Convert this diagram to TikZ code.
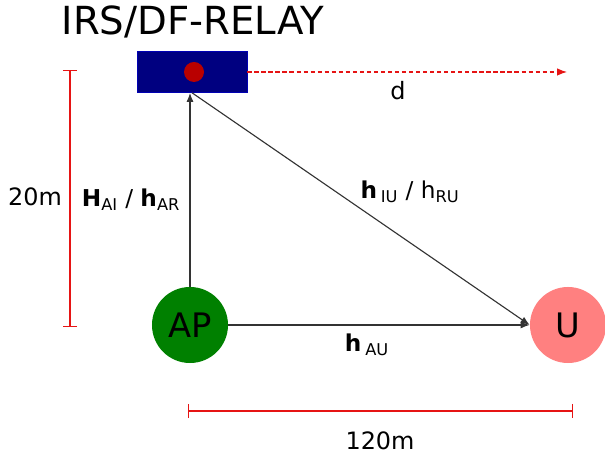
\documentclass[tikz,border=0pt]{standalone}
\usepackage{fontspec}
\setmainfont{DejaVu Sans}
\usepackage{xcolor}
\usetikzlibrary{arrows.meta,positioning}

\definecolor{relayblue}{RGB}{0,0,128}
\definecolor{dotred}{RGB}{185,0,0}
\definecolor{apgreen}{RGB}{0,128,0}
\definecolor{userred}{RGB}{255,128,128}
\definecolor{dimred}{RGB}{230,20,20}

\begin{document}
\begin{tikzpicture}[
  x=0.025cm, y=-0.025cm,
  >={Latex[length=6.5pt,width=5pt]},
  station/.style={circle, minimum size=1.9cm, inner sep=0pt, font=\fontsize{24}{28}\selectfont},
  link/.style={->, line width=0.8pt, draw=black!80},
  dim/.style={dimred, line width=0.75pt, {Bar[width=10pt]}-{Bar[width=10pt]}},
  lbl/.style={font=\fontsize{17}{20}\selectfont},
  chan/.style={font=\fontsize{16.5}{19}\selectfont}
]
\useasboundingbox (0,0) rectangle (605,457);

% ── Top: relay / IRS ──
\node[font=\fontsize{27.5}{32}\selectfont] (title) at (193,22) {IRS/DF-RELAY};
\node[draw=blue!40!relayblue, fill=relayblue, minimum width=2.75cm, minimum height=1.025cm, inner sep=0pt]
  (relay) at (192,72) {};
\node[circle, fill=dotred, minimum size=0.5cm, inner sep=0pt] (dot) at (194,72) {};

% ── Bottom: access point and user ──
\node[station, fill=apgreen] (ap) at (190,325) {AP};
\node[station, fill=userred] (user) at (568,325) {U};

% ── Distance d ──
\coordinate (dend) at (567,72);
\draw[dimred, line width=0.75pt, densely dashed, -{Latex[length=7pt]}] (relay.east) -- (dend);
\node[lbl] (dlbl) at (398,91) {d};

% ── Dimensions ──
\coordinate (htop) at (70,70);
\coordinate (hbot) at (70,327);
\draw[dim] (htop) -- (hbot);
\node[lbl] (hlbl) at (35,197) {20m};

\coordinate (wleft) at (188,411);
\coordinate (wright) at (573,411);
\draw[dim] (wleft) -- (wright);
\node[lbl] (wlbl) at (380,441) {120m};

% ── Channels ──
\draw[link] (ap.north) -- (ap.north |- relay.south);
\draw[link] (relay.south) -- (user.west);
\draw[link] (ap.east) -- (user.west);

\node[chan] (hai) at (131,200)
  {{\bfseries H}\textsubscript{AI} / {\bfseries h}\textsubscript{AR}};
\node[chan] (hiu) at (410,192)
  {{\bfseries h}\,\textsubscript{IU} / h\textsubscript{RU}};
\node[chan] (hau) at (367,345)
  {{\bfseries h}\,\textsubscript{AU}};

\end{tikzpicture}
\end{document}
